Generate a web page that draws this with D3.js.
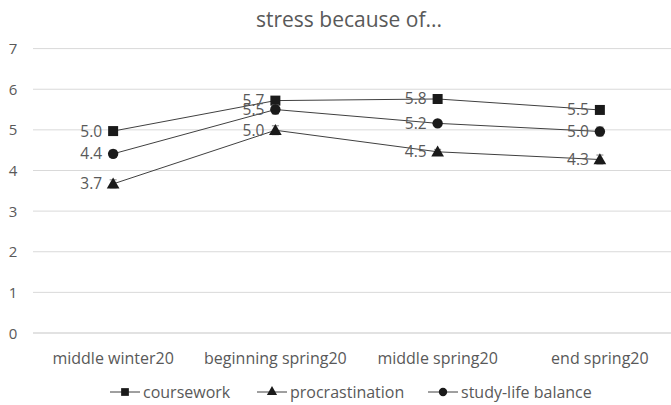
<!DOCTYPE html>
<html><head><meta charset="utf-8">
<script src="https://cdn.jsdelivr.net/npm/d3@7"></script>
<style>body{margin:0;background:#fff}svg{display:block}text{font-family:"Open Sans","Noto Sans",sans-serif}</style>
</head><body>
<svg id="c" width="671" height="405"></svg>
<script>
const categories = ["middle winter20","beginning spring20","middle spring20","end spring20"];
const coursework = [4.97, 5.72, 5.76, 5.49];
const procrastination = [3.67, 4.99, 4.46, 4.27];
const studyLife = [4.41, 5.50, 5.16, 4.96];
const courseworkErr = [0.06, 0.07, 0.05, 0.06];
const procrastinationErr = [0.10, 0.11, 0.06, 0.11];
const studyLifeErr = [0.09, 0.11, 0.06, 0.11];
const yTicks = [0,1,2,3,4,5,6,7];
const seriesNames = ["coursework","procrastination","study-life balance"];

const series = [
  {name: seriesNames[0], values: coursework, err: courseworkErr, sym: d3.symbolSquare},
  {name: seriesNames[1], values: procrastination, err: procrastinationErr, sym: d3.symbolTriangle},
  {name: seriesNames[2], values: studyLife, err: studyLifeErr, sym: d3.symbolCircle}
];

const svg = d3.select("#c");
const x = d3.scaleBand().domain(categories).range([32, 681]);
const y = d3.scaleLinear().domain([0,7]).range([333, 48.6]);
const grey = "#595959";

svg.append("text").attr("x", 349).attr("y", 27).attr("text-anchor","middle")
  .attr("font-size", 21).attr("fill", grey).text("stress because of...");

// grid
svg.append("g").selectAll("line").data(yTicks).join("line")
  .attr("x1", 33).attr("x2", 671).attr("y1", d=>y(d)).attr("y2", d=>y(d))
  .attr("stroke", "#d9d9d9").attr("stroke-width", d=>d===0?1.5:1);
svg.append("g").selectAll("text").data(yTicks).join("text")
  .attr("x", 13).attr("y", d=>y(d)+5.5).attr("text-anchor","middle")
  .attr("font-size", 15).attr("fill", grey).text(d=>d);

const cx = c => x(c) + x.bandwidth()/2;

// x labels
svg.append("g").selectAll("text").data(categories).join("text")
  .attr("x", d=>cx(d)).attr("y", 364).attr("text-anchor","middle")
  .attr("font-size", 16).attr("fill", grey).text(d=>d);

const line = d3.line().x((d,i)=>cx(categories[i])).y(d=>y(d));

series.forEach(s=>{
  const g = svg.append("g");
  g.append("path").attr("d", line(s.values)).attr("fill","none").attr("stroke","#404040").attr("stroke-width",1);
  s.values.forEach((v,i)=>{
    const px = cx(categories[i]);
    const e = s.err[i];
    g.append("line").attr("x1",px).attr("x2",px).attr("y1",y(v-e)).attr("y2",y(v+e)).attr("stroke","#7f7f7f").attr("stroke-width",1);
    [v-e, v+e].forEach(t=>g.append("line").attr("x1",px-3.5).attr("x2",px+3.5).attr("y1",y(t)).attr("y2",y(t)).attr("stroke","#7f7f7f").attr("stroke-width",1));
  });
  g.selectAll("path.m").data(s.values).join("path").attr("class","m")
    .attr("d", d3.symbol().type(s.sym).size(s.sym===d3.symbolSquare?100:(s.sym===d3.symbolCircle?85:70)))
    .attr("transform",(d,i)=>`translate(${cx(categories[i])},${y(d)+(s.sym===d3.symbolTriangle?1:0)})`)
    .attr("fill","#1a1a1a");
  g.selectAll("text").data(s.values).join("text")
    .attr("x",(d,i)=>cx(categories[i])-11).attr("y",d=>y(d)+5.5)
    .attr("text-anchor","end").attr("font-size",15.5).attr("fill",grey)
    .text(d=>d.toFixed(1));
});

// legend
const leg = svg.append("g");
series.forEach((s,i)=>{
  const gx = [110, 257, 428][i];
  leg.append("line").attr("x1",gx).attr("x2",gx+30).attr("y1",392).attr("y2",392).attr("stroke","#404040").attr("stroke-width",1);
  leg.append("path").attr("d", d3.symbol().type(s.sym).size(s.sym===d3.symbolSquare?60:(s.sym===d3.symbolCircle?55:45)))
    .attr("transform",`translate(${gx+15},${392})`).attr("fill","#1a1a1a");
  leg.append("text").attr("x",gx+33).attr("y",398).attr("font-size",16).attr("fill",grey).text(s.name);
});
</script>
</body></html>
